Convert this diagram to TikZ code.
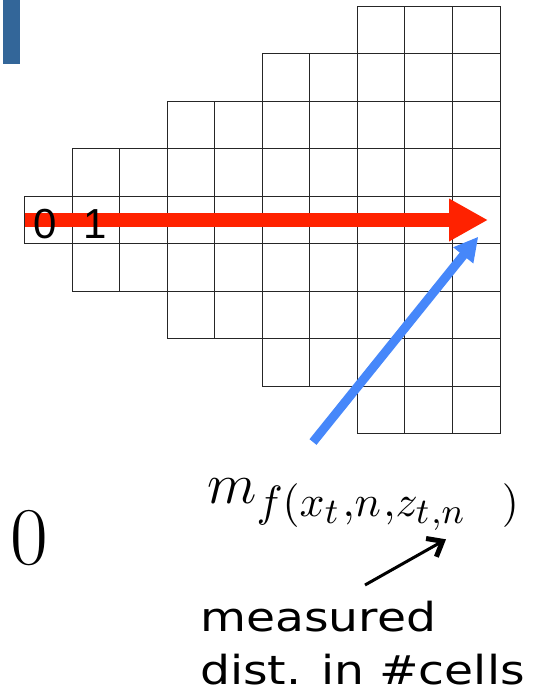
\documentclass[tikz,border=0pt]{standalone}
\usepackage{fontspec}
\usetikzlibrary{arrows.meta}
\newfontfamily\cellfont{Liberation Sans}
\newfontfamily\descfont[FakeStretch=1.18]{DejaVu Sans}
\DeclareMathSizes{14.4}{14.4}{10.95}{9}
\definecolor{redarrow}{RGB}{255,34,0}
\definecolor{bluearrow}{RGB}{70,135,250}
\definecolor{barblue}{RGB}{51,102,153}
\tikzset{
  gridline/.style={draw=black!85,line width=0.9pt},
  celllabel/.style={anchor=base west,inner sep=0pt,font=\cellfont\fontsize{42}{46}\selectfont},
  desclabel/.style={anchor=base west,inner sep=0pt,font=\descfont\fontsize{40}{48}\selectfont},
  redconn/.style={draw=redarrow,line width=13.3pt,-{Triangle[length=39pt,width=40pt]}},
  blueconn/.style={draw=bluearrow,line width=9pt,-{Triangle[length=24pt,width=24pt]}},
  blackconn/.style={draw=black,line width=3pt,-{Straight Barb[length=13pt,width=21pt,line width=5pt]}}
}
\begin{document}
\begin{tikzpicture}[x=1pt,y=-1pt]
\useasboundingbox (0,0) rectangle (547,688);
% blue bar top left
\fill[barblue] (3,0) rectangle (20,64);
% grid
\foreach \c/\a/\b in {0/4/4,1/3/5,2/3/5,3/2/6,4/2/6,5/1/7,6/1/7,7/0/8,8/0/8,9/0/8}{
  \foreach \r in {\a,...,\b}{
    \draw[gridline] ({24.5+47.55*\c},{6+47.5*\r}) rectangle +(47.55,47.5);
  }
}
% red arrow
\coordinate (rstart) at (24.5,220);
\coordinate (rtip) at (488,220);
\draw[redconn] (rstart) -- (rtip);
% cell labels
\node[celllabel] (c0) at (33.2,238.5) {0};
\node[celllabel] (c1) at (83.4,238.5) {1};
% blue arrow
\coordinate (btail) at (313,442);
\coordinate (btip) at (478.3,236.7);
\draw[blueconn] (btail) -- (btip);
% measurement formula
\node[anchor=base west,inner sep=0pt] (meas) at (207,503)
  {\fontsize{14.4}{17}\selectfont\scalebox{4.0}{$m_{f(x_t\mkern1mu,n\mkern1mu,z_{t\mkern1mu,n}\hspace{9pt})}$}};
% big zero
\node[anchor=base west,inner sep=0pt] (zero) at (9.8,564)
  {\fontsize{82}{90}\selectfont 0};
% black arrow
\coordinate (ktail) at (365,585);
\coordinate (ktip) at (446,539.3);
\draw[blackconn] (ktail) -- (ktip);
% description
\node[desclabel] (d1) at (200,631) {measured};
\node[desclabel] (d2) at (200,684) {dist. in \#cells};
\end{tikzpicture}
\end{document}
